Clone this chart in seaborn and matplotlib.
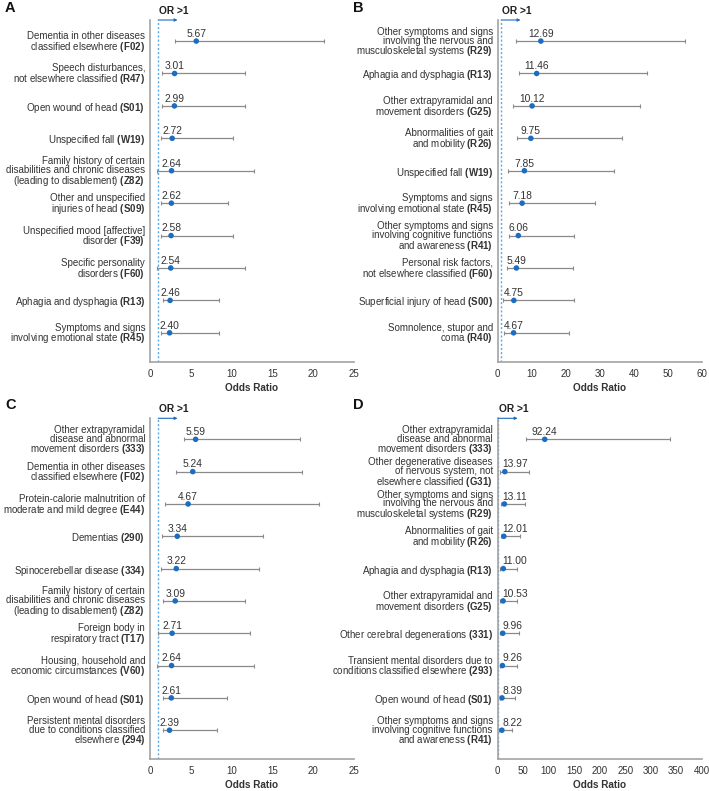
import numpy as np
import seaborn as sns
import matplotlib
matplotlib.use("Agg")
import matplotlib.pyplot as plt

# Panel A
a_text = ["Dementia in other diseases\nclassified elsewhere",
          "Speech disturbances,\nnot elsewhere classified",
          "Open wound of head",
          "Unspecified fall",
          "Family history of certain\ndisabilities and chronic diseases\n(leading to disablement)",
          "Other and unspecified\ninjuries of head",
          "Unspecified mood [affective]\ndisorder",
          "Specific personality\ndisorders",
          "Aphagia and dysphagia",
          "Symptoms and signs\ninvolving emotional state"]
a_code = ["F02", "R47", "S01", "W19", "Z82", "S09", "F39", "F60", "R13", "R45"]
a_or = [5.67, 3.01, 2.99, 2.72, 2.64, 2.62, 2.58, 2.54, 2.46, 2.40]
a_lo = [3.1, 1.5, 1.5, 1.4, 0.85, 1.4, 1.3, 0.9, 1.6, 1.4]
a_hi = [21.3, 11.6, 11.6, 10.2, 12.8, 9.6, 10.2, 11.7, 8.4, 8.5]

# Panel B
b_text = ["Other symptoms and signs\ninvolving the nervous and\nmusculoskeletal systems",
          "Aphagia and dysphagia",
          "Other extrapyramidal and\nmovement disorders",
          "Abnormalities of gait\nand mobility",
          "Unspecified fall",
          "Symptoms and signs\ninvolving emotional state",
          "Other symptoms and signs\ninvolving cognitive functions\nand awareness",
          "Personal risk factors,\nnot elsewhere classified",
          "Superficial injury of head",
          "Somnolence, stupor and\ncoma"]
b_code = ["R29", "R13", "G25", "R26", "W19", "R45", "R41", "F60", "S00", "R40"]
b_or = [12.69, 11.46, 10.12, 9.75, 7.85, 7.18, 6.06, 5.49, 4.75, 4.67]
b_lo = [5.4, 6.4, 4.6, 5.6, 3.1, 3.4, 3.4, 2.6, 1.7, 1.9]
b_hi = [55.1, 43.8, 41.9, 36.5, 34.3, 28.7, 22.3, 22.0, 22.3, 20.9]

# Panel C
c_text = ["Other extrapyramidal\ndisease and abnormal\nmovement disorders",
          "Dementia in other diseases\nclassified elsewhere",
          "Protein-calorie malnutrition of\nmoderate and mild degree",
          "Dementias",
          "Spinocerebellar disease",
          "Family history of certain\ndisabilities and chronic diseases\n(leading to disablement)",
          "Foreign body in\nrespiratory tract",
          "Housing, household and\neconomic circumstances",
          "Open wound of head",
          "Persistent mental disorders\ndue to conditions classified\nelsewhere"]
c_code = ["333", "F02", "E44", "290", "334", "Z82", "T17", "V60", "S01", "294"]
c_or = [5.59, 5.24, 4.67, 3.34, 3.22, 3.09, 2.71, 2.64, 2.61, 2.39]
c_lo = [4.2, 3.2, 1.8, 1.5, 1.4, 1.6, 1.0, 0.9, 1.6, 1.6]
c_hi = [18.4, 18.6, 20.7, 13.8, 13.3, 11.7, 12.3, 12.7, 9.4, 8.2]

# Panel D
d_text = ["Other extrapyramidal\ndisease and abnormal\nmovement disorders",
          "Other degenerative diseases\nof nervous system, not\nelsewhere classified",
          "Other symptoms and signs\ninvolving the nervous and\nmusculoskeletal systems",
          "Abnormalities of gait\nand mobility",
          "Aphagia and dysphagia",
          "Other extrapyramidal and\nmovement disorders",
          "Other cerebral degenerations",
          "Transient mental disorders due to\nconditions classified elsewhere",
          "Open wound of head",
          "Other symptoms and signs\ninvolving cognitive functions\nand awareness"]
d_code = ["333", "G31", "R29", "R26", "R13", "G25", "331", "293", "S01", "R41"]
d_or = [92.24, 13.97, 13.11, 12.01, 11.00, 10.53, 9.96, 9.26, 8.39, 8.22]
d_lo = [55.6, 5.0, 6.5, 6.5, 5.0, 5.0, 4.0, 4.0, 4.0, 3.0]
d_hi = [338, 61, 53, 44, 38.6, 38.6, 41, 38.6, 33, 29]

sns.set_theme(style="white")
plt.rcParams["font.family"] = ["Liberation Sans", "DejaVu Sans"]
plt.rcParams["mathtext.fontset"] = "custom"
plt.rcParams["mathtext.rm"] = "Liberation Sans"
plt.rcParams["mathtext.bf"] = "Liberation Sans:bold"

PT_COL = "#1c6cc0"
CI_COL = "#8a8a8a"
TXT = "#333333"
REF_COL = "#5aa9e6"
DPI = 100


def make_label(text, code):
    return text + " $\\mathbf{(" + code + ")}$"


def panel(ax, texts, codes, ors, los, his, xmax, step):
    pos = np.arange(len(ors))
    ax.axvline(1, color=REF_COL, ls=(0, (1.5, 1.5)), lw=1.0, zorder=1)
    ax.errorbar(ors, pos, xerr=[np.array(ors) - np.array(los), np.array(his) - np.array(ors)],
                fmt="none", ecolor=CI_COL, elinewidth=0.9, capsize=1.6, capthick=0.8, zorder=2)
    sns.scatterplot(x=ors, y=pos, ax=ax, color=PT_COL, s=16, edgecolor="none", zorder=3)
    notes = []
    for x, y in zip(ors, pos):
        t = ax.annotate(f"{x:.2f}", (x, y), xytext=(0, 5.2), textcoords="offset points",
                        ha="center", va="center", fontsize=7.4, color=TXT)
        notes.append(t)
    ax.set_xlim(0, xmax)
    ax.set_ylim(len(ors) - 0.1, -0.65)
    ax.set_xticks(np.arange(0, xmax + 1, step))
    ax.set_yticks(pos)
    ax.set_yticklabels([make_label(t, c) for t, c in zip(texts, codes)],
                       fontsize=7.0, color=TXT, linespacing=0.86)
    ax.tick_params(axis="x", length=0, pad=5, labelsize=7, labelcolor=TXT)
    ax.tick_params(axis="y", length=0, pad=3.5)
    ax.set_xlabel("Odds Ratio", fontsize=7.2, fontweight="bold", color=TXT, labelpad=3)
    ax.set_ylabel("")
    for s in ["top", "right"]:
        ax.spines[s].set_visible(False)
    for s in ["left", "bottom"]:
        ax.spines[s].set_color("#a3a3a3")
        ax.spines[s].set_linewidth(1.2)
    # OR > 1 arrow
    x0 = 1 / xmax
    ax.annotate("", xy=(x0 + 0.095, 1.0), xytext=(x0, 1.0), xycoords="axes fraction",
                arrowprops=dict(arrowstyle="-|>", color=PT_COL, lw=0.8,
                                mutation_scale=4, shrinkA=0, shrinkB=0))
    ax.text(x0 + 0.005, 1.0 + 9.5 / 342, "OR >1", transform=ax.transAxes, fontsize=7.4,
            fontweight="bold", color="#222222", ha="left", va="center")
    return notes


fig = plt.figure(figsize=(7.09, 7.91), dpi=DPI)
W, H = 709, 791
axA = fig.add_axes([150 / W, 1 - 362 / H, 204 / W, 342 / H])
axB = fig.add_axes([497.7 / W, 1 - 362 / H, 204 / W, 342 / H])
axC = fig.add_axes([150 / W, 1 - 759.3 / H, 204 / W, 341 / H])
axD = fig.add_axes([497.7 / W, 1 - 759.3 / H, 204 / W, 341 / H])

all_notes = []
all_notes += [(axA, panel(axA, a_text, a_code, a_or, a_lo, a_hi, 25, 5))]
all_notes += [(axB, panel(axB, b_text, b_code, b_or, b_lo, b_hi, 60, 10))]
all_notes += [(axC, panel(axC, c_text, c_code, c_or, c_lo, c_hi, 25, 5))]
all_notes += [(axD, panel(axD, d_text, d_code, d_or, d_lo, d_hi, 400, 50))]

for letter, x, y in [("A", 5, 8), ("B", 353, 8), ("C", 5, 405), ("D", 353, 405)]:
    fig.text(x / W, 1 - y / H, letter, fontsize=10.5, fontweight="bold", color="#111111",
             ha="left", va="center")

# keep value labels from crossing the y axis
fig.canvas.draw()
renderer = fig.canvas.get_renderer()
for ax, notes in all_notes:
    left = ax.get_window_extent(renderer).x0 + 5
    for t in notes:
        ext = t.get_window_extent(renderer)
        if ext.x0 < left:
            shift = (left - ext.x0) * 72 / DPI
            t.set_position((shift, 5.2))

fig.savefig("out.png", dpi=DPI)
